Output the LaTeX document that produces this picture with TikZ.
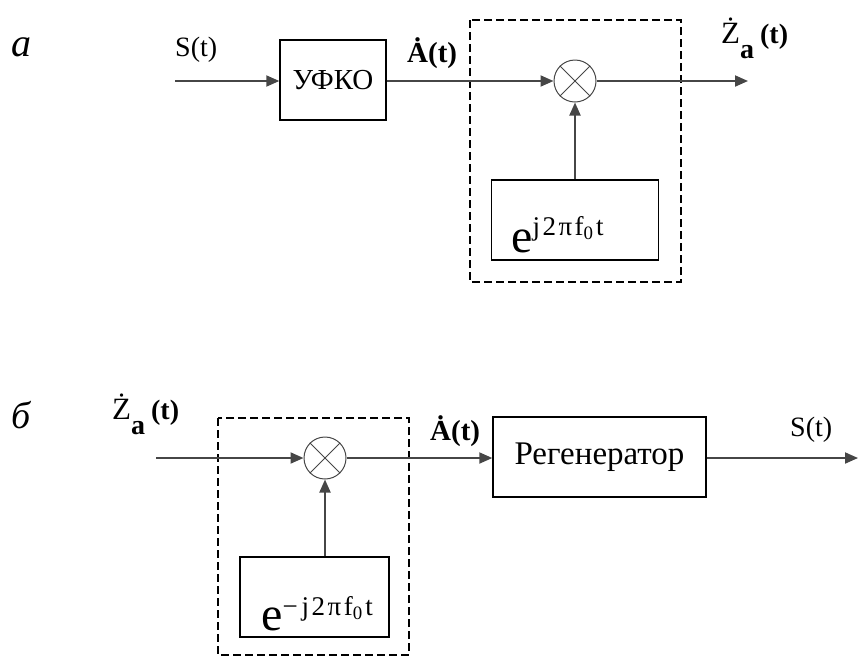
\documentclass[tikz,border=0pt]{standalone}
\usepackage{fontspec}
\setmainfont{Liberation Serif}
\usetikzlibrary{arrows.meta, positioning}
\definecolor{linegray}{RGB}{70,70,70}

\tikzset{
  blk/.style={draw=black, line width=1.4pt, inner sep=0pt},
  mult/.style={circle, draw=linegray, line width=1pt, minimum size=42pt, inner sep=0pt},
  sig/.style={draw=linegray, line width=1.9pt, -{Triangle[length=13pt,width=11pt]}},
  grp/.style={draw=black, line width=1.1pt, dash pattern=on 8pt off 4pt},
  lbl/.style={font=\fontsize{28}{28}\selectfont, inner sep=0pt},
}
% экспонента гетеродина
\newcommand{\sk}{\kern2.5pt}
\newcommand{\expo}[2]{{\fontsize{48}{48}\selectfont e}\raisebox{#1}{\fontsize{27}{27}\selectfont #2j\sk 2\sk π\sk f\textsubscript{0}\sk t}}

\begin{document}
\begin{tikzpicture}[x=1pt, y=-1pt]
  \useasboundingbox (0,0) rectangle (858,657);

  % ---------- схема а ----------
  \node[font=\fontsize{40}{40}\selectfont\itshape, inner sep=0pt, anchor=base west] (la) at (11,56) {a};

  \coordinate (ina) at (175,81);
  \node[blk, minimum width=106pt, minimum height=80pt, font=\fontsize{29}{29}\selectfont] (ufko) at (333,80) {УФКО};
  \node[mult] (ma) at (575,81) {};
  \draw[linegray, line width=1pt] (ma.45) -- (ma.225) (ma.135) -- (ma.315);
  \node[blk, minimum width=167pt, minimum height=80pt] (gena) at (575,220) {};
  \node[inner sep=0pt, anchor=base west] (expa) at (511,252) {\expo{17pt}{}};
  \coordinate (outa) at (748,81);

  % пунктирная рамка
  \draw[grp] (470,20) rectangle (681,282);

  \draw[sig] (ina) -- (ufko.west |- ina);
  \draw[sig] (ufko.east |- ma) -- (ma);
  \draw[sig] (ma |- gena.north) -- (ma);
  \draw[sig] (ma) -- (outa);

  \node[lbl, anchor=base west] (sa) at (175,56) {S(t)};
  \node[lbl, anchor=base west, font=\fontsize{29}{29}\selectfont\bfseries] (aa) at (407,62) {\.{A}(t)};
  \node[lbl, anchor=base west] (za) at (721,43) {{\fontsize{31}{31}\selectfont\.{Z}}\raisebox{-15pt}{\bfseries a}\kern6pt\textbf{(t)}};

  % ---------- схема б ----------
  \node[font=\fontsize{38}{38}\selectfont\itshape, inner sep=0pt, anchor=base west] (lb) at (11,428) {б};

  \coordinate (inb) at (156,458);
  \node[mult] (mb) at (325,458) {};
  \draw[linegray, line width=1pt] (mb.45) -- (mb.225) (mb.135) -- (mb.315);
  \node[blk, minimum width=149pt, minimum height=80pt] (genb) at (314.5,597) {};
  \node[inner sep=0pt, anchor=base west] (expb) at (261,630) {\expo{15pt}{−\kern4pt}};
  \node[blk, minimum width=213pt, minimum height=80pt, font=\fontsize{33}{33}\selectfont] (regen) at (599.5,457) {Регенератор};
  \coordinate (outb) at (858,458);

  % пунктирная рамка
  \draw[grp] (218,418) rectangle (409,655);

  \draw[sig] (inb) -- (mb);
  \draw[sig] (mb |- genb.north) -- (mb);
  \draw[sig] (mb) -- (regen.west |- mb);
  \draw[sig] (regen.east |- mb) -- (outb);

  \node[lbl, anchor=base west] (zb) at (112,419) {{\fontsize{31}{31}\selectfont\.{Z}}\raisebox{-15pt}{\bfseries a}\kern6pt\textbf{(t)}};
  \node[lbl, anchor=base west, font=\fontsize{29}{29}\selectfont\bfseries] (ab) at (430,440) {\.{A}(t)};
  \node[lbl, anchor=base west] (sb) at (790,436) {S(t)};
\end{tikzpicture}
\end{document}
